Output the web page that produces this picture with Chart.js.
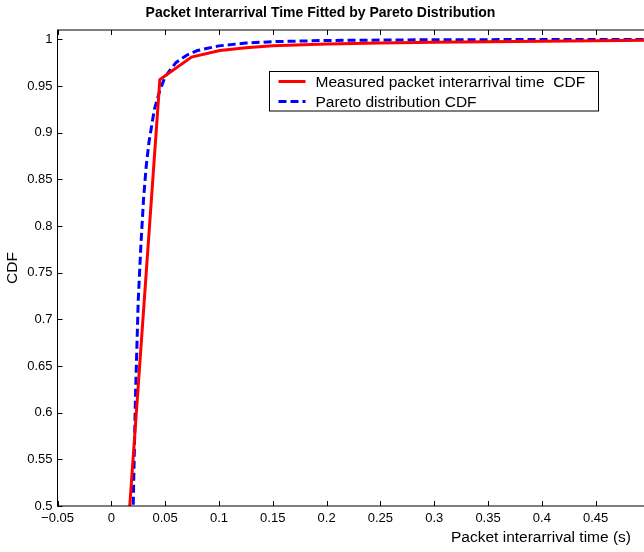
<!DOCTYPE html>
<html>
<head>
<meta charset="utf-8">
<script src="https://cdn.jsdelivr.net/npm/chart.js"></script>
<style>
  html, body { margin: 0; padding: 0; background: #fff; }
  #wrap { width: 644px; height: 552px; overflow: hidden; position: relative; }
  canvas { display: block; }
</style>
</head>
<body>
<div id="wrap"><canvas id="cdf" width="660" height="552" style="width:660px;height:552px"></canvas></div>
<script>
// values
const xMeasured = [0.011, 0.0451, 0.0745, 0.1008, 0.125, 0.15, 0.2, 0.25, 0.3, 0.35, 0.4, 0.45, 0.5];
const yMeasured = [0.40, 0.957, 0.981, 0.988, 0.991, 0.993, 0.995, 0.996, 0.997, 0.9975, 0.998, 0.9985, 0.999];

const xPareto = [0.0195, 0.0205, 0.0225, 0.025, 0.0275, 0.030, 0.0325, 0.035, 0.040, 0.045, 0.050, 0.060, 0.070, 0.080, 0.100, 0.125, 0.150, 0.200, 0.300, 0.500];
const yPareto = [0.45, 0.51, 0.62, 0.72, 0.78, 0.83, 0.865, 0.89, 0.925, 0.945, 0.96, 0.975, 0.983, 0.988, 0.993, 0.996, 0.9975, 0.9988, 0.9996, 0.9999];

const xTicks = [-0.05, 0, 0.05, 0.1, 0.15, 0.2, 0.25, 0.3, 0.35, 0.4, 0.45, 0.5];
const yTicks = [0.5, 0.55, 0.6, 0.65, 0.7, 0.75, 0.8, 0.85, 0.9, 0.95, 1];
// the figure is cut at the right edge, so the last x label is not shown
const xLastLabel = 0.45;

const FONT = '"Liberation Sans", Arial, Helvetica, sans-serif';

const fmt = (v) => {
    const s = String(Number(v.toFixed(2)));
    return s.replace('-', '\u2212');
};

const matlabFrame = {
    id: 'matlabFrame',
    afterDraw(chart) {
        const {ctx, chartArea: a, scales: {x, y}} = chart;
        ctx.save();
        // axes box + inward ticks on all four sides
        ctx.strokeStyle = '#000';
        ctx.lineWidth = 1;
        ctx.strokeRect(a.left, a.top, a.right - a.left, a.bottom - a.top);
        ctx.beginPath();
        x.ticks.forEach(t => {
            const px = Math.round(x.getPixelForValue(t.value)) + 0.5;
            ctx.moveTo(px, a.bottom); ctx.lineTo(px, a.bottom - 5);
            ctx.moveTo(px, a.top); ctx.lineTo(px, a.top + 5);
        });
        y.ticks.forEach(t => {
            const py = Math.round(y.getPixelForValue(t.value)) + 0.5;
            ctx.moveTo(a.left, py); ctx.lineTo(a.left + 5, py);
            ctx.moveTo(a.right, py); ctx.lineTo(a.right - 5, py);
        });
        ctx.stroke();

        // legend box inside the axes
        const lx = 269.5, ly = 71.5, lw = 329, lh = 39.5;
        ctx.fillStyle = '#fff';
        ctx.fillRect(lx, ly, lw, lh);
        ctx.strokeStyle = '#000';
        ctx.lineWidth = 1;
        ctx.strokeRect(lx, ly, lw, lh);
        chart.data.datasets.forEach((ds, i) => {
            const yy = ly + 10 + i * 20;
            ctx.strokeStyle = ds.borderColor;
            ctx.lineWidth = ds.borderWidth;
            ctx.setLineDash(ds.borderDash || []);
            ctx.beginPath();
            ctx.moveTo(lx + 9, yy); ctx.lineTo(lx + 36, yy);
            ctx.stroke();
            ctx.setLineDash([]);
            ctx.fillStyle = '#000';
            ctx.font = '15.5px ' + FONT;
            ctx.textAlign = 'left';
            ctx.textBaseline = 'middle';
            ctx.fillText(ds.label, lx + 46, yy + 1);
        });

        // title and axis labels
        ctx.fillStyle = '#000';
        ctx.textAlign = 'center';
        ctx.textBaseline = 'middle';
        ctx.font = 'bold 14px ' + FONT;
        ctx.fillText('Packet Interarrival Time Fitted by Pareto Distribution', 320.5, 13);
        ctx.font = '15.5px ' + FONT;
        ctx.fillText('Packet interarrival time (s)', 541, 538);
        ctx.translate(13, 268);
        ctx.rotate(-Math.PI / 2);
        ctx.fillText('CDF', 0, 0);
        ctx.restore();
    }
};

new Chart(document.getElementById('cdf').getContext('2d'), {
    type: 'line',
    data: {
        datasets: [{
            label: 'Measured packet interarrival time  CDF',
            data: xMeasured.map((v, i) => ({x: v, y: yMeasured[i]})),
            borderColor: '#ff0000',
            borderWidth: 3,
            pointRadius: 0,
            tension: 0,
            fill: false,
        }, {
            label: 'Pareto distribution CDF',
            data: xPareto.map((v, i) => ({x: v, y: yPareto[i]})),
            borderColor: '#0000ff',
            borderWidth: 3,
            borderDash: [8, 4],
            pointRadius: 0,
            tension: 0,
            fill: false,
        }]
    },
    options: {
        responsive: false,
        animation: false,
        devicePixelRatio: 1,
        layout: {padding: {top: 30, right: 10.5, bottom: 0, left: 0}},
        scales: {
            x: {
                type: 'linear',
                min: -0.05,
                max: 0.5,
                afterFit: (s) => { s.height = 46; },
                afterBuildTicks: (s) => { s.ticks = xTicks.map(v => ({value: v})); },
                grid: {display: false, drawTicks: false},
                border: {display: false},
                ticks: {
                    padding: 5,
                    color: '#000',
                    font: {family: FONT, size: 13},
                    maxRotation: 0,
                    autoSkip: false,
                    callback: (v) => v > xLastLabel + 1e-9 ? '' : fmt(v),
                },
            },
            y: {
                type: 'linear',
                min: 0.5,
                max: 1.01,
                afterFit: (s) => { s.width = 57.5; },
                afterBuildTicks: (s) => { s.ticks = yTicks.map(v => ({value: v})); },
                grid: {display: false, drawTicks: false},
                border: {display: false},
                ticks: {
                    padding: 5,
                    color: '#000',
                    font: {family: FONT, size: 13},
                    autoSkip: false,
                    callback: (v) => fmt(v),
                },
            }
        },
        plugins: {
            legend: {display: false},
            tooltip: {enabled: false},
            title: {display: false},
        }
    },
    plugins: [matlabFrame]
});
</script>
</body>
</html>
